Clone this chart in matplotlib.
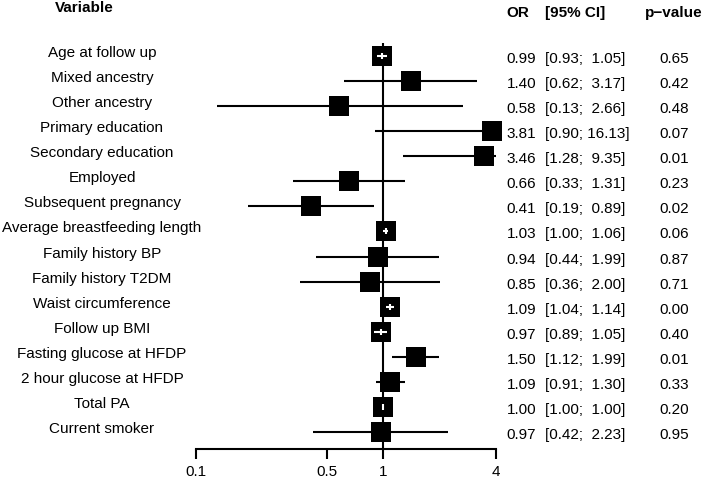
import numpy as np
import matplotlib
matplotlib.use("Agg")
import matplotlib.pyplot as plt
from matplotlib import transforms

plt.rcParams['font.family'] = ['Liberation Sans', 'DejaVu Sans']

variables = ["Age at follow up", "Mixed ancestry", "Other ancestry", "Primary education",
             "Secondary education", "Employed", "Subsequent pregnancy",
             "Average breastfeeding length", "Family history BP", "Family history T2DM",
             "Waist circumference", "Follow up BMI", "Fasting glucose at HFDP",
             "2 hour glucose at HFDP", "Total PA", "Current smoker"]
odds = [0.99, 1.40, 0.58, 3.81, 3.46, 0.66, 0.41, 1.03, 0.94, 0.85, 1.09, 0.97, 1.50, 1.09, 1.00, 0.97]
ci_low = [0.93, 0.62, 0.13, 0.90, 1.28, 0.33, 0.19, 1.00, 0.44, 0.36, 1.04, 0.89, 1.12, 0.91, 1.00, 0.42]
ci_high = [1.05, 3.17, 2.66, 16.13, 9.35, 1.31, 0.89, 1.06, 1.99, 2.00, 1.14, 1.05, 1.99, 1.30, 1.00, 2.23]
pvals = [0.65, 0.42, 0.48, 0.07, 0.01, 0.23, 0.02, 0.06, 0.87, 0.71, 0.00, 0.40, 0.01, 0.33, 0.20, 0.95]
xticks = [0.1, 0.5, 1, 4]
xtick_labels = ["0.1", "0.5", "1", "4"]

W, H = 703, 483
fig = plt.figure(figsize=(W / 100, H / 100), dpi=100)
# axes: x pixels 196..496, y pixels 43..449 (from top)
ax = fig.add_axes([196 / W, (H - 449) / H, 300 / W, 406 / H])
ax.set_xscale('log')
ax.set_xlim(0.1, 4)
row_px = 25.07
n = len(variables)
ypos = np.arange(n)
ax.set_ylim((449 - 56) / row_px, (43 - 56) / row_px)

for s in ['top', 'left', 'right']:
    ax.spines[s].set_visible(False)
ax.spines['bottom'].set_bounds(0.1, 4)
ax.spines['bottom'].set_linewidth(1.5)
ax.set_yticks([])
ax.minorticks_off()
ax.set_xticks(xticks)
ax.set_xticklabels(xtick_labels, fontsize=11)
ax.tick_params(axis='x', which='major', direction='out', length=7.2, width=1.5, pad=4)
ax.tick_params(axis='x', which='minor', length=0)

ax.axvline(1, color='black', lw=1.5, zorder=1)

fig.canvas.draw()
xmin, xmax = ax.get_xlim()
half = 10  # px half side of square
for i in range(n):
    lo = max(ci_low[i], xmin)
    hi = min(ci_high[i], xmax)
    ax.plot([lo, hi], [ypos[i], ypos[i]], color='black', lw=1.5, solid_capstyle='butt', zorder=2)
    ax.plot([odds[i]], [ypos[i]], marker='s', markersize=14.4, markeredgewidth=0,
            color='black', zorder=3, clip_on=False)
    cx, cy = ax.transData.transform((odds[i], ypos[i]))
    left = ax.transData.inverted().transform((cx - half, cy))[0]
    right = ax.transData.inverted().transform((cx + half, cy))[0]
    if ci_low[i] >= left and ci_high[i] <= right:
        ax.plot([ci_low[i], ci_high[i]], [ypos[i], ypos[i]], color='white', lw=1.5,
                solid_capstyle='butt', zorder=4)
        d = 3 / row_px
        ax.plot([odds[i], odds[i]], [ypos[i] - d, ypos[i] + d], color='white', lw=1.5,
                solid_capstyle='butt', zorder=4)

tr = transforms.blended_transform_factory(fig.transFigure, ax.transData)
off_lab = 1 / row_px
off_num = 7 / row_px
for i in range(n):
    ax.text(102 / W, ypos[i] + off_lab, variables[i], transform=tr, ha='center',
            va='baseline', fontsize=11, clip_on=False)
    ax.text(536 / W, ypos[i] + off_num, f"{odds[i]:.2f}", transform=tr, ha='right',
            va='baseline', fontsize=11, clip_on=False)
    hi_s = f"{ci_high[i]:.2f}"
    ci_s = f"[{ci_low[i]:.2f}; " + (" " if len(hi_s) < 5 else "") + hi_s + "]"
    ax.text(545 / W, ypos[i] + off_num, ci_s, transform=tr, ha='left',
            va='baseline', fontsize=11, clip_on=False)
    ax.text(674 / W, ypos[i] + off_num, f"{pvals[i]:.2f}", transform=tr, ha='center',
            va='baseline', fontsize=11, clip_on=False)

yh_left = (12 - 56) / row_px
yh_right = (17 - 56) / row_px
ax.text(55 / W, yh_left, "Variable", transform=tr, ha='left', va='baseline',
        fontsize=11, fontweight='bold', clip_on=False)
ax.text(506 / W, yh_right, "OR", transform=tr, ha='left', va='baseline',
        fontsize=11, fontweight='bold', clip_on=False)
ax.text(545 / W, yh_right, "[95% CI]", transform=tr, ha='left', va='baseline',
        fontsize=11, fontweight='bold', clip_on=False)
ax.text(674 / W, yh_right, "p\u2212value", transform=tr, ha='center', va='baseline',
        fontsize=11, fontweight='bold', clip_on=False)

fig.savefig("out.png", dpi=100)
